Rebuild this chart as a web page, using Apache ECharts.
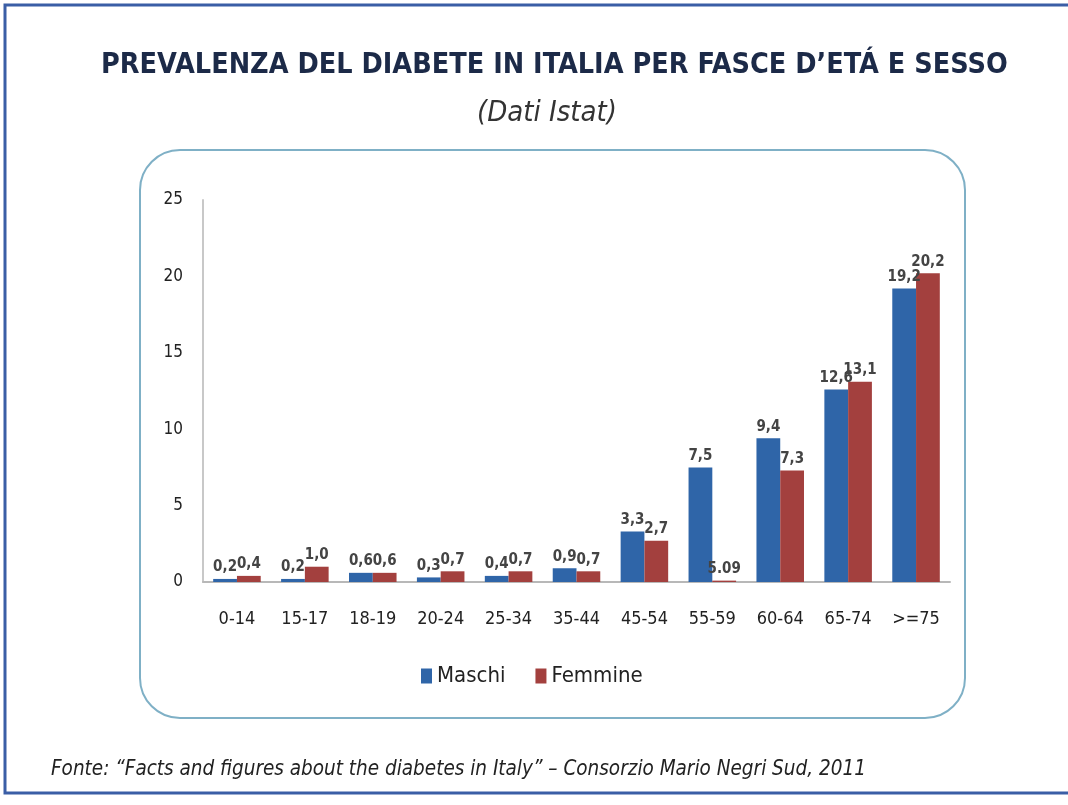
<!DOCTYPE html>
<html>
<head>
<meta charset="utf-8">
<script src="https://cdn.jsdelivr.net/npm/echarts@6/dist/echarts.min.js"></script>
<style>
    html, body { margin: 0; padding: 0; background: #fff; }
    #chart { width: 1068px; height: 805px; }
</style>
</head>
<body>
<div id="chart"></div>
<script>
    "use strict";

    // Data
    var categories = ['0-14', '15-17', '18-19', '20-24', '25-34', '35-44', '45-54', '55-59', '60-64', '65-74', '>=75'];
    var maschi = [0.2, 0.2, 0.6, 0.3, 0.4, 0.9, 3.3, 7.5, 9.4, 12.6, 19.2];
    var femmine = [0.4, 1.0, 0.6, 0.7, 0.7, 0.7, 2.7, 0.09, 7.3, 13.1, 20.2];
    // labels as printed in the source slide (one differs from its bar)
    var femmineLabels = ['0,4', '1,0', '0,6', '0,7', '0,7', '0,7', '2,7', '5.09', '7,3', '13,1', '20,2'];
    var yTicks = [0, 5, 10, 15, 20, 25];

    var BLUE = '#2f65a8';
    var RED = '#a3403e';
    var FONT = '"Liberation Sans Narrow", "DejaVu Sans Condensed", "Open Sans", sans-serif';

    function itNum(v) {
        return v.toFixed(1).replace('.', ',');
    }

    var chart = echarts.init(document.getElementById('chart'));

    var labelStyle = {
        show: true,
        position: 'top',
        distance: 4,
        fontFamily: FONT,
        fontSize: 15,
        fontWeight: 'bold',
        color: '#444'
    };

    var option = {
        backgroundColor: '#ffffff',
        animation: false,
        title: [{
            text: 'PREVALENZA DEL DIABETE IN ITALIA PER FASCE D\u2019ETÁ E SESSO',
            left: 96,
            top: 46,
            textStyle: { fontFamily: FONT, fontSize: 28.5, fontWeight: 'bold', color: '#1c2a48' }
        }, {
            text: '(Dati Istat)',
            left: 472,
            top: 94,
            textStyle: { fontFamily: FONT, fontSize: 29, fontStyle: 'italic', fontWeight: 'normal', color: '#333' }
        }, {
            text: 'Fonte: \u201CFacts and figures about the diabetes in Italy\u201D \u2013 Consorzio Mario Negri Sud, 2011',
            left: 46,
            top: 755,
            textStyle: { fontFamily: FONT, fontSize: 20.5, fontStyle: 'italic', fontWeight: 'normal', color: '#222' }
        }],
        graphic: [{
            type: 'rect',
            shape: { x: 5, y: 5, width: 1090, height: 788 },
            style: { fill: 'none', stroke: '#3a5ea6', lineWidth: 3 },
            z: -1
        }, {
            type: 'rect',
            shape: { x: 140, y: 150, width: 825, height: 568, r: 40 },
            style: { fill: '#fff', stroke: '#7fb0c6', lineWidth: 2 },
            z: -1
        }],
        legend: {
            data: ['Maschi', 'Femmine'],
            left: 416,
            top: 660,
            icon: 'rect',
            itemWidth: 11,
            itemHeight: 15,
            itemGap: 30,
            textStyle: { fontFamily: FONT, fontSize: 22, color: '#222' }
        },
        grid: {
            left: 203,
            right: 118,
            top: 200,
            bottom: 223
        },
        xAxis: {
            type: 'category',
            data: categories,
            axisLine: { lineStyle: { color: '#b8b8b8', width: 2 } },
            axisTick: { show: false },
            axisLabel: { fontFamily: FONT, fontSize: 18, color: '#222', margin: 28 }
        },
        yAxis: {
            type: 'value',
            min: yTicks[0],
            max: yTicks[yTicks.length - 1],
            interval: 5,
            splitLine: { show: false },
            axisLine: { show: true, lineStyle: { color: '#c8c8c8', width: 2 } },
            axisTick: { show: false },
            axisLabel: { fontFamily: FONT, fontSize: 17, color: '#222', margin: 20 }
        },
        series: [{
            name: 'Maschi',
            type: 'bar',
            data: maschi,
            barGap: '0%',
            barCategoryGap: '30%',
            itemStyle: { color: BLUE },
            label: Object.assign({}, labelStyle, {
                formatter: function (p) { return itNum(p.value); }
            })
        }, {
            name: 'Femmine',
            type: 'bar',
            data: femmine,
            itemStyle: { color: RED },
            label: Object.assign({}, labelStyle, {
                formatter: function (p) { return femmineLabels[p.dataIndex]; }
            })
        }]
    };

    chart.setOption(option);
</script>
</body>
</html>
